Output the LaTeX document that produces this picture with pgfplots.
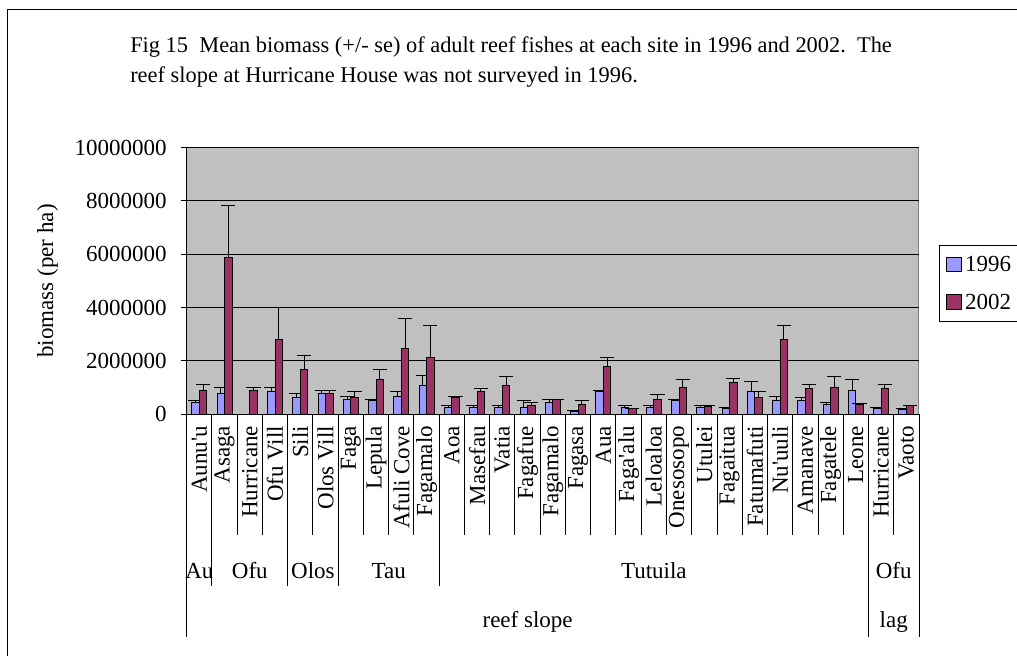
\documentclass[border=0pt]{standalone}
\usepackage{pgfplots}
\usepackage{pgfplotstable}
\pgfplotsset{compat=1.18}
\usepackage{fontspec}
\setmainfont{Liberation Serif}

\definecolor{xlblue}{HTML}{9999FF}
\definecolor{xlplum}{HTML}{993366}
\definecolor{xlgrey}{HTML}{C0C0C0}
\definecolor{xlframe}{HTML}{808080}

\newcommand{\f}{\fontsize{17.25}{20}\selectfont}
\newcommand{\q}{\textquotesingle}

% x = site index, y = mean biomass, e = se
\pgfplotstableread{
x y e
0 435000 65000
1 788000 210000
3 837000 161000
4 612000 176000
5 773000 113000
6 548000 127000
7 500000 63000
8 675000 173000
9 1062000 401000
10 263000 60000
11 263000 60000
12 263000 60000
13 274000 226000
14 450000 98000
15 113000 48000
16 837000 63000
17 263000 60000
18 263000 60000
19 500000 63000
20 263000 60000
21 210000 64000
22 837000 386000
23 500000 160000
24 500000 112000
25 386000 49000
26 900000 400000
27 210000 64000
28 188000 32000
}\yrA

\pgfplotstableread{
x y e
0 900000 226000
1 5865000 1965000
2 900000 98000
3 2814000 1186000
4 1688000 512000
5 773000 113000
6 612000 225000
7 1287000 401000
8 2476000 1124000
9 2139000 1186000
10 612000 48000
11 837000 124000
12 1062000 349000
13 338000 97000
14 548000 15000
15 386000 114000
16 1800000 339000
17 210000 10000
18 563000 161000
19 1013000 287000
20 310000 13000
21 1175000 161000
22 612000 225000
23 2814000 511000
24 961000 165000
25 1013000 398000
26 386000 10000
27 961000 165000
28 323000 10000
}\yrB

\begin{document}
\begin{tikzpicture}
\path[use as bounding box] (0,0) rectangle (762.75pt,-492pt);

\begin{scope}[x=0.75pt,y=-0.75pt]
  \draw[line width=0.75pt] (7,10) rectangle (1040,700);
  \node[anchor=base west,inner sep=0pt,font=\fontsize{16.8}{20}\selectfont] at (130,53)
    {Fig 15\ \ Mean biomass (+/- se) of adult reef fishes at each site in 1996 and 2002.\ \ The};
  \node[anchor=base west,inner sep=0pt,font=\fontsize{16.8}{20}\selectfont] at (130,83)
    {reef slope at Hurricane House was not surveyed in 1996.};
\end{scope}

\begin{axis}[
    at={(140pt,-310.73pt)}, anchor=south west,
    scale only axis,
    width=549.2pt, height=200.1pt,
    xmin=-0.5, xmax=28.5,
    ymin=0, ymax=10000000,
    ytick={0,2000000,...,10000000},
    scaled y ticks=false,
    yticklabel style={/pgf/number format/fixed,/pgf/number format/1000 sep={},
        /pgf/number format/assume math mode=true, font=\f, xshift=-7pt},
    ymajorgrids,
    grid style={black, line width=0.75pt},
    axis background/.style={fill=xlgrey, draw=xlframe, line width=0.75pt},
    axis x line*=bottom, axis y line*=left,
    axis line style={black, line width=0.75pt, -},
    tick align=outside,
    major tick length=4.5pt,
    y tick style={black, line width=0.75pt},
    x tick style={draw=none},
    xtick={0,...,28},
    xticklabels={Aunu\q u,Asaga,Hurricane,Ofu Vill,Sili,Olos Vill,Faga,Lepula,Afuli Cove,Fagamalo,Aoa,Masefau,Vatia,Fagafue,Fagamalo,Fagasa,Aua,Faga\q alu,Leloaloa,Onesosopo,Utulei,Fagaitua,Fatumafuti,Nu\q uuli,Amanave,Fagatele,Leone,Hurricane,Vaoto},
    xticklabel style={yshift=-3pt, rotate=90, anchor=east, font=\f, inner sep=1pt},
    ylabel={biomass (per ha)},
    ylabel style={font=\f, at={(axis description cs:-0.19,0.5)}, anchor=center},
    ybar=0pt, bar width=5.6pt,
    clip=false,
    legend style={at={(axis description cs:1.0277,0.6357)}, anchor=north west,
        draw=black, line width=0.75pt, fill=white, font=\f,
        inner xsep=5pt, inner ysep=6pt, row sep=11.5pt},
    legend cell align=left,
    legend image code/.code={\draw[#1, line width=0.75pt] (0pt,-5.6pt) rectangle (11.25pt,5.6pt);},
    error bars/y dir=plus, error bars/y explicit,
    error bars/error mark=|,
    error bars/error mark options={black, line width=0.75pt, mark size=5.3pt},
    error bars/error bar style={black, line width=0.75pt},
]
\addplot[fill=xlblue, draw=black, line width=0.75pt] table[x=x, y=y, y error=e] {\yrA};
\addlegendentry{1996}
\addplot[fill=xlplum, draw=black, line width=0.75pt] table[x=x, y=y, y error=e] {\yrB};
\addlegendentry{2002}
\end{axis}

% multi-level category table under the axis
\begin{scope}[x=0.75pt,y=-0.75pt,line width=0.75pt]
  \foreach \k in {0,...,29} \draw (186.7+25.252*\k,414.3) -- ++(0,120.7);
  \foreach \k in {1,4,6,10,27} \draw (186.7+25.252*\k,414.3) -- ++(0,171.7);
  \foreach \k in {0,27,29} \draw (186.7+25.252*\k,414.3) -- ++(0,222.7);
  \foreach \a/\b/\t in {0/1/Au,1/4/Ofu,4/6/Olos,6/10/Tau,10/27/Tutuila,27/29/Ofu}
    \node[anchor=base,inner sep=0pt,font=\f] at (186.7+25.252*\a/2+25.252*\b/2,578.5) {\t};
  \node[anchor=base,inner sep=0pt,font=\f] at (186.7+25.252*13.5,627) {reef slope};
  \node[anchor=base,inner sep=0pt,font=\f] at (186.7+25.252*28,627) {lag};
\end{scope}
\end{tikzpicture}
\end{document}
